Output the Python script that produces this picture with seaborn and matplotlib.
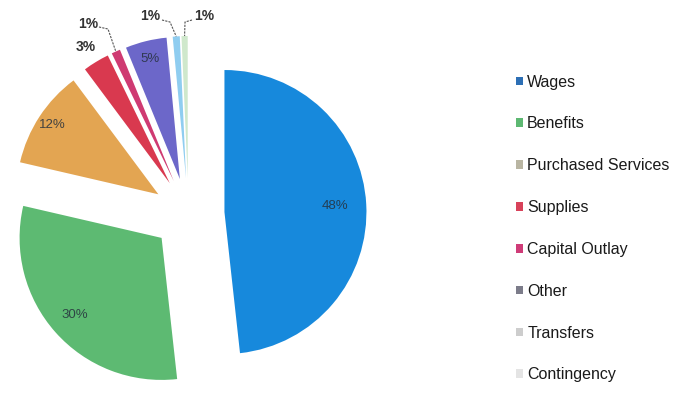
import numpy as np
import matplotlib
matplotlib.use("Agg")
import matplotlib.pyplot as plt
from matplotlib.patches import Patch
import seaborn as sns

sns.set_theme(style="white")
plt.rcParams['font.family'] = ['Liberation Sans', 'DejaVu Sans']

categories = ["Wages", "Benefits", "Purchased Services", "Supplies",
              "Capital Outlay", "Other", "Transfers", "Contingency"]
values = [48.3, 30.4, 11.2, 3.0, 1.0, 4.7, 0.8, 0.7]
pct_labels = ["48%", "30%", "12%", "3%", "1%", "5%", "1%", "1%"]

slice_colors = ["#1789dc", "#5dba72", "#e3a552", "#d9394f",
                "#cf3a72", "#6c67c9", "#8fcdf0", "#cfe8cc"]
legend_colors = ["#2d6fb5", "#5db872", "#b9b5a2", "#d8425a",
                 "#cf3c78", "#7c7c8a", "#cdcdcd", "#e4e4e4"]

W, H = 687, 393
fig = plt.figure(figsize=(W / 100, H / 100), dpi=100)
ax = fig.add_axes([0, 0, 1, 1])

R = 142
cx, cy = 188.5, H - 214
wedges, _ = ax.pie(values, colors=slice_colors, startangle=90, counterclock=False,
                   explode=[36] * len(values), radius=R, center=(cx, cy),
                   wedgeprops=dict(linewidth=0))
ax.set_xlim(0, W)
ax.set_ylim(0, H)
ax.set_aspect('equal')
ax.axis('off')

inside = {0: 0.78, 1: 0.82, 2: 0.89, 5: 0.87}
for i, w in enumerate(wedges):
    mid = np.deg2rad((w.theta1 + w.theta2) / 2)
    x0, y0 = w.center
    if i in inside:
        d = inside[i] * R
        ax.text(x0 + d * np.cos(mid), y0 + d * np.sin(mid), pct_labels[i],
                ha='center', va='center', fontsize=9.5, color='#26313d', alpha=0.85)

# outside labels with leader lines
def edge_pt(i, frac=1.0):
    w = wedges[i]
    mid = np.deg2rad((w.theta1 + w.theta2) / 2)
    x0, y0 = w.center
    return x0 + frac * R * np.cos(mid), y0 + frac * R * np.sin(mid)

lbl_kw = dict(fontsize=10, fontweight='bold', color='#333333', va='center')
# Supplies
ax.text(86, H - 47, pct_labels[3], ha='center', **lbl_kw)
# Capital Outlay
ax.text(88, H - 24, pct_labels[4], ha='center', **lbl_kw)
ex, ey = edge_pt(4)
ax.plot([99, 108, ex], [H - 27, H - 29, ey], color='#555555', lw=0.8, ls=(0, (2, 1)))
# Transfers
ax.text(150, H - 16, pct_labels[6], ha='center', **lbl_kw)
ex, ey = edge_pt(6)
ax.plot([162, 170, ex], [H - 20, H - 22, ey], color='#555555', lw=0.8, ls=(0, (2, 1)))
# Contingency
ax.text(204, H - 16, pct_labels[7], ha='center', **lbl_kw)
ex, ey = edge_pt(7)
ax.plot([192, 185, ex], [H - 20, H - 22, ey], color='#555555', lw=0.8, ls=(0, (2, 1)))

handles = [Patch(facecolor=c, edgecolor='none') for c in legend_colors]
ax.legend(handles, categories, loc='center left', bbox_to_anchor=(508, H - 228.5),
          bbox_transform=ax.transData, frameon=False, fontsize=11.5,
          handlelength=0.45, handleheight=0.45, handletextpad=0.25,
          labelspacing=1.68, labelcolor='#1a1a1a', borderpad=0)

fig.savefig("out.png", dpi=100)
